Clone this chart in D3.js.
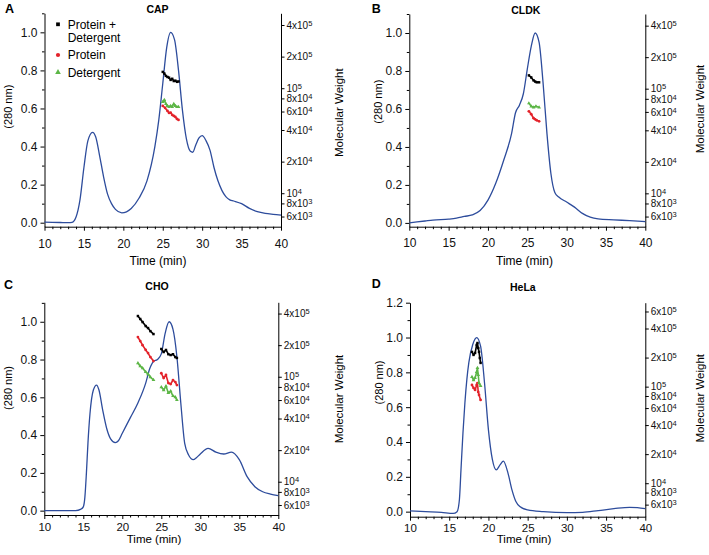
<!DOCTYPE html>
<html>
<head>
<meta charset="utf-8">
<script src="https://cdn.jsdelivr.net/npm/d3@7"></script>
<style>
  body { margin: 0; background: #fff; }
  svg { display: block; }
</style>
</head>
<body>
<div id="chart"></div>
<script>
// ---- data ----
// absorbance traces, [time (min), A280]
const capCurve = [[10,0.003],[12,0.001],[13,0.0],[13.5,0.002],[14,0.03],[14.5,0.12],[15,0.29],[15.5,0.43],[16.1,0.475],[16.5,0.45],[17,0.35],[17.5,0.24],[18,0.15],[18.5,0.10],[19,0.07],[19.8,0.052],[21,0.075],[22,0.13],[23,0.22],[24,0.40],[24.5,0.54],[25,0.73],[25.5,0.92],[26,1.0],[26.5,0.96],[27,0.80],[27.5,0.59],[28,0.44],[28.5,0.375],[28.8,0.37],[29.2,0.41],[29.6,0.445],[30,0.457],[30.5,0.43],[31,0.38],[31.5,0.29],[32,0.22],[32.5,0.17],[33,0.137],[33.5,0.12],[34,0.114],[35,0.10],[36,0.075],[37,0.058],[38,0.049],[39,0.044],[40,0.04]];
const cldkCurve = [[10,0.0],[12,0.01],[13,0.015],[15,0.02],[16,0.025],[17,0.034],[18,0.042],[19,0.065],[20,0.12],[21,0.21],[22,0.33],[23,0.47],[23.5,0.58],[24,0.62],[24.5,0.68],[25,0.81],[25.5,0.93],[26,1.0],[26.5,0.95],[27,0.74],[27.5,0.47],[28,0.26],[28.5,0.16],[29,0.136],[30,0.11],[31,0.083],[32,0.05],[33,0.03],[34,0.021],[36,0.016],[38,0.012],[40,0.007]];
const choCurve = [[10,0],[14,0],[14.7,0.008],[15,0.02],[15.2,0.07],[15.4,0.2],[15.6,0.36],[15.85,0.51],[16.3,0.64],[16.7,0.665],[17,0.64],[17.5,0.53],[18,0.435],[18.5,0.38],[19.1,0.36],[19.5,0.37],[20,0.41],[21,0.49],[22,0.57],[23,0.675],[23.5,0.75],[24,0.79],[24.5,0.80],[25,0.83],[25.5,0.94],[26,1.0],[26.5,0.96],[27,0.815],[27.5,0.57],[28,0.356],[28.5,0.295],[29.1,0.27],[29.5,0.28],[30,0.30],[31,0.33],[32,0.31],[33,0.30],[34,0.31],[35,0.27],[36,0.18],[37,0.127],[38,0.10],[39,0.088],[40,0.08]];
const helaCurve = [[10,0.004],[12,0.0],[14,-0.004],[15.5,-0.01],[16,0.0],[16.3,0.07],[16.5,0.24],[16.75,0.45],[17,0.625],[17.25,0.76],[17.5,0.856],[18,0.96],[18.5,1.0],[19,0.95],[19.5,0.74],[20,0.47],[20.5,0.30],[21,0.24],[21.5,0.27],[21.9,0.29],[22.5,0.22],[23,0.125],[23.5,0.058],[24,0.029],[25,0.01],[27,0.0],[30,-0.006],[32,-0.004],[34,0.006],[36,0.017],[38,0.025],[39,0.023],[40,0.017]];

// molecular weight points, [time (min), MW]
const capProtDet = [[25.0,143000],[25.2,138000],[25.4,131000],[25.6,128000],[25.8,126000],[26.0,120000],[26.2,123000],[26.4,117000],[26.6,118000],[26.8,115000],[27.0,116000]];
const capProt = [[25.0,67800],[25.3,64900],[25.6,60800],[25.8,58200],[26.0,58500],[26.2,55700],[26.4,54500],[26.6,53300],[26.8,51000],[27.0,49900]];
const capDet = [[25.0,74100],[25.2,77400],[25.4,70900],[25.6,67800],[25.8,66300],[26.0,67800],[26.2,66300],[26.4,70900],[26.6,67800],[26.8,66300],[27.0,66300]];

const cldkProtDet = [[25.2,134000],[25.5,128000],[25.8,120000],[26.0,117000],[26.2,115000],[26.5,115000]];
const cldkProt = [[25.2,60800],[25.5,57000],[25.8,52200],[26.0,51000],[26.2,49900],[26.5,48800]];
const cldkDet = [[25.2,72500],[25.5,67800],[25.8,66300],[26.1,67800],[26.5,66300]];

const choProtDet1 = [[22.0,379000],[22.3,355000],[22.6,332000],[23.0,304000],[23.3,291000],[23.6,272000],[24.0,255000]];
const choProt1 = [[22.0,239000],[22.3,219000],[22.6,200000],[23.0,180000],[23.3,168000],[23.6,154000],[24.0,141000]];
const choDet1 = [[22.0,135000],[22.3,126000],[22.6,121000],[23.0,111000],[23.3,106000],[23.6,99300],[24.0,93100]];
const choProtDet2 = [[25.0,184000],[25.3,172000],[25.6,180000],[25.9,164000],[26.2,161000],[26.5,164000],[26.8,154000],[27.0,151000]];
const choProt2 = [[25.0,108000],[25.3,97200],[25.6,104000],[25.9,87100],[26.2,85200],[26.5,93100],[26.8,89100],[27.0,83400]];
const choDet2 = [[25.0,79700],[25.3,74700],[25.6,81500],[25.9,70000],[26.2,73000],[26.5,65500],[26.8,64000],[27.0,60000]];

const helaProtDet = [[17.9,229000],[18.1,213000],[18.3,223000],[18.5,270000],[18.6,283000],[18.7,251000],[18.8,229000],[18.9,198000],[19.0,176000]];
const helaDet = [[17.9,126000],[18.1,117000],[18.3,123000],[18.5,142000],[18.6,156000],[18.7,132000],[18.8,109000],[19.0,102000]];
const helaProt = [[17.9,104000],[18.1,97000],[18.3,92500],[18.5,104000],[18.6,109000],[18.7,88100],[18.8,82000],[19.0,72800]];

// ticks
const timeTicks = [10, 15, 20, 25, 30, 35, 40];
const absTicks = [0, 0.2, 0.4, 0.6, 0.8, 1.0];
const absTicksD = [0, 0.2, 0.4, 0.6, 0.8, 1.0, 1.2];
const mwTicks = [6e3, 8e3, 1e4, 2e4, 4e4, 6e4, 8e4, 1e5, 2e5, 4e5];
const mwTicksD = [6e3, 8e3, 1e4, 2e4, 4e4, 6e4, 8e4, 1e5, 2e5, 4e5, 6e5];
const legendLabels = [["Protein +", "Detergent"], ["Protein"], ["Detergent"]];

// ---- drawing ----
const FONT = "'Liberation Sans', Arial, Helvetica, sans-serif";
const BLUE = "#2d4c9c";
const seriesColor = ["#000000", "#e3222a", "#5cb646"];
const seriesSymbol = [d3.symbolSquare, d3.symbolCircle, d3.symbolTriangle];

const svg = d3.select("#chart").append("svg")
    .attr("width", 709)
    .attr("height", 555)
    .attr("font-family", FONT);

// panel layout (pixel positions)
const panels = [
    {letter: "A", title: "CAP", curve: capCurve, absTicks: absTicks, mwTicks: mwTicks,
     groups: [[capProtDet], [capProt], [capDet]],
     x0: 44.5, x1: 281, yTop: 13.3, yBot: 226.7, absDom: [-0.021, 1.1], mwDom: [4.8e3, 5.17e5],
     letterPos: [5, 13.3], titlePos: [157.5, 13.3], xPad: 8.5, xFont: 12,
     xLab: [158, 265], yLab: [8, 106.7], mwLab: [339.3, 112.7], legend: true},
    {letter: "B", title: "CLDK", curve: cldkCurve, absTicks: absTicks, mwTicks: mwTicks,
     groups: [[cldkProtDet], [cldkProt], [cldkDet]],
     x0: 409.3, x1: 645.3, yTop: 14, yBot: 226.7, absDom: [-0.02, 1.1], mwDom: [4.8e3, 5.17e5],
     letterPos: [371.7, 12.7], titlePos: [525.8, 14], xPad: 7.5, xFont: 12,
     xLab: [524.5, 265], yLab: [378.3, 101.7], mwLab: [700, 109]},
    {letter: "C", title: "CHO", curve: choCurve, absTicks: absTicks, mwTicks: mwTicks,
     groups: [[choProtDet1, choProtDet2], [choProt1, choProt2], [choDet1, choDet2]],
     x0: 44.3, x1: 278.3, yTop: 302.3, yBot: 515, absDom: [-0.023, 1.103], mwDom: [4.82e3, 5.12e5],
     letterPos: [4, 289], titlePos: [157, 290], xPad: 3.5, xFont: 11.5,
     xLab: [154, 543], yLab: [8.3, 388], mwLab: [339, 399]},
    {letter: "D", title: "HeLa", curve: helaCurve, absTicks: absTicksD, mwTicks: mwTicksD,
     groups: [[helaProtDet], [helaProt], [helaDet]],
     x0: 410, x1: 645.3, yTop: 302.7, yBot: 516.7, absDom: [-0.029, 1.2], mwDom: [4.5e3, 7.4e5],
     letterPos: [371.7, 288.3], titlePos: [522.8, 290.5], xPad: 3, xFont: 11.5,
     xLab: [524, 543], yLab: [379.3, 382.5], mwLab: [700, 398.3]}
];

function styleAxis(g, size) {
    g.attr("font-family", FONT).attr("font-size", size);
    g.selectAll("path.domain").attr("stroke", "#000").attr("stroke-width", 1);
    g.selectAll(".tick line").attr("stroke", "#000").attr("stroke-width", 1);
    g.selectAll(".tick text").attr("fill", "#111");
}

function drawPanel(p) {
    let x = d3.scaleLinear().domain([10, 40]).range([p.x0, p.x1]);
    let y = d3.scaleLinear().domain(p.absDom).range([p.yBot, p.yTop]);
    let mw = d3.scaleLog().domain(p.mwDom).range([p.yBot, p.yTop]);

    let g = svg.append("g");

    // minor ticks
    let minorT = d3.range(11, 40).filter(d => d % 5 !== 0);
    g.append("g").attr("transform", `translate(0,${p.yBot})`)
        .call(d3.axisBottom(x).tickValues(minorT).tickSize(2.5).tickFormat(""))
        .call(a => a.select(".domain").remove())
        .call(a => styleAxis(a, 11));
    let minorA = d3.range(1, Math.round(p.absDom[1] * 10) + 1, 2).map(d => d / 10);
    g.append("g").attr("transform", `translate(${p.x0},0)`)
        .call(d3.axisLeft(y).tickValues(minorA).tickSize(2.5).tickFormat(""))
        .call(a => a.select(".domain").remove())
        .call(a => styleAxis(a, 11));

    // main axes
    g.append("g").attr("transform", `translate(0,${p.yBot})`)
        .call(d3.axisBottom(x).tickValues(timeTicks).tickSize(4).tickSizeOuter(0)
            .tickPadding(p.xPad).tickFormat(d3.format("d")))
        .call(a => styleAxis(a, p.xFont));

    g.append("g").attr("transform", `translate(${p.x0},0)`)
        .call(d3.axisLeft(y).tickValues(p.absTicks).tickSize(4).tickSizeOuter(0)
            .tickPadding(3).tickFormat(d3.format(".1f")))
        .call(a => styleAxis(a, 12));

    let gR = g.append("g").attr("transform", `translate(${p.x1},0)`)
        .call(d3.axisRight(mw).tickValues(p.mwTicks).tickSize(3.5).tickSizeOuter(0)
            .tickPadding(2).tickFormat(d => d))
        .call(a => styleAxis(a, 10));

    // right axis labels as mantissa x 10 with a raised exponent
    gR.selectAll(".tick text").each(function (d) {
        let e = Math.floor(Math.log10(d) + 1e-9);
        let m = Math.round(d / Math.pow(10, e));
        let t = d3.select(this).text(null);
        t.append("tspan").text(m === 1 ? "10" : m + "x10");
        t.append("tspan").attr("dy", "-0.4em").attr("font-size", "7.5px").text(e);
    });

    // absorbance trace
    let line = d3.line().x(d => x(d[0])).y(d => y(d[1])).curve(d3.curveMonotoneX);
    g.append("path")
        .datum(p.curve)
        .attr("d", line)
        .attr("fill", "none")
        .attr("stroke", BLUE)
        .attr("stroke-width", 1.3);

    // molecular weight points
    let mwLine = d3.line().x(d => x(d[0])).y(d => mw(d[1]));
    p.groups.forEach((segs, i) => {
        segs.forEach(seg => {
            g.append("path")
                .datum(seg)
                .attr("d", mwLine)
                .attr("fill", "none")
                .attr("stroke", seriesColor[i])
                .attr("stroke-width", 1.6)
                .attr("stroke-linejoin", "round");
            g.selectAll(null)
                .data(seg)
                .enter()
                .append("path")
                .attr("transform", d => `translate(${x(d[0])},${mw(d[1])})`)
                .attr("d", d3.symbol().type(seriesSymbol[i]).size(6))
                .attr("fill", seriesColor[i]);
        });
    });

    // texts
    g.append("text").attr("x", p.letterPos[0]).attr("y", p.letterPos[1])
        .attr("font-size", 12.5).attr("font-weight", "bold").text(p.letter);
    g.append("text").attr("x", p.titlePos[0]).attr("y", p.titlePos[1])
        .attr("text-anchor", "middle").attr("font-size", 10.5).attr("font-weight", "bold").text(p.title);
    g.append("text").attr("x", p.xLab[0]).attr("y", p.xLab[1])
        .attr("text-anchor", "middle").attr("font-size", p.xFont).text("Time (min)");
    g.append("text").attr("transform", `translate(${p.yLab[0]},${p.yLab[1]}) rotate(-90)`)
        .attr("text-anchor", "middle").attr("dy", "0.35em").attr("font-size", 11).text("(280 nm)");
    g.append("text").attr("transform", `translate(${p.mwLab[0]},${p.mwLab[1]}) rotate(-90)`)
        .attr("text-anchor", "middle").attr("dy", "0.35em").attr("font-size", 11.5).text("Molecular Weight");

    if (p.legend) {
        let rowY = [24.3, 55, 72.3];
        legendLabels.forEach((lab, i) => {
            g.append("path")
                .attr("transform", `translate(58,${rowY[i]})`)
                .attr("d", d3.symbol().type(seriesSymbol[i]).size(14))
                .attr("fill", seriesColor[i]);
            lab.forEach((s, k) => {
                g.append("text")
                    .attr("x", 67.7)
                    .attr("y", rowY[i] + k * 13.4)
                    .attr("dy", "0.36em")
                    .attr("font-size", 12)
                    .text(s);
            });
        });
    }
}

panels.forEach(drawPanel);
</script>
</body>
</html>
